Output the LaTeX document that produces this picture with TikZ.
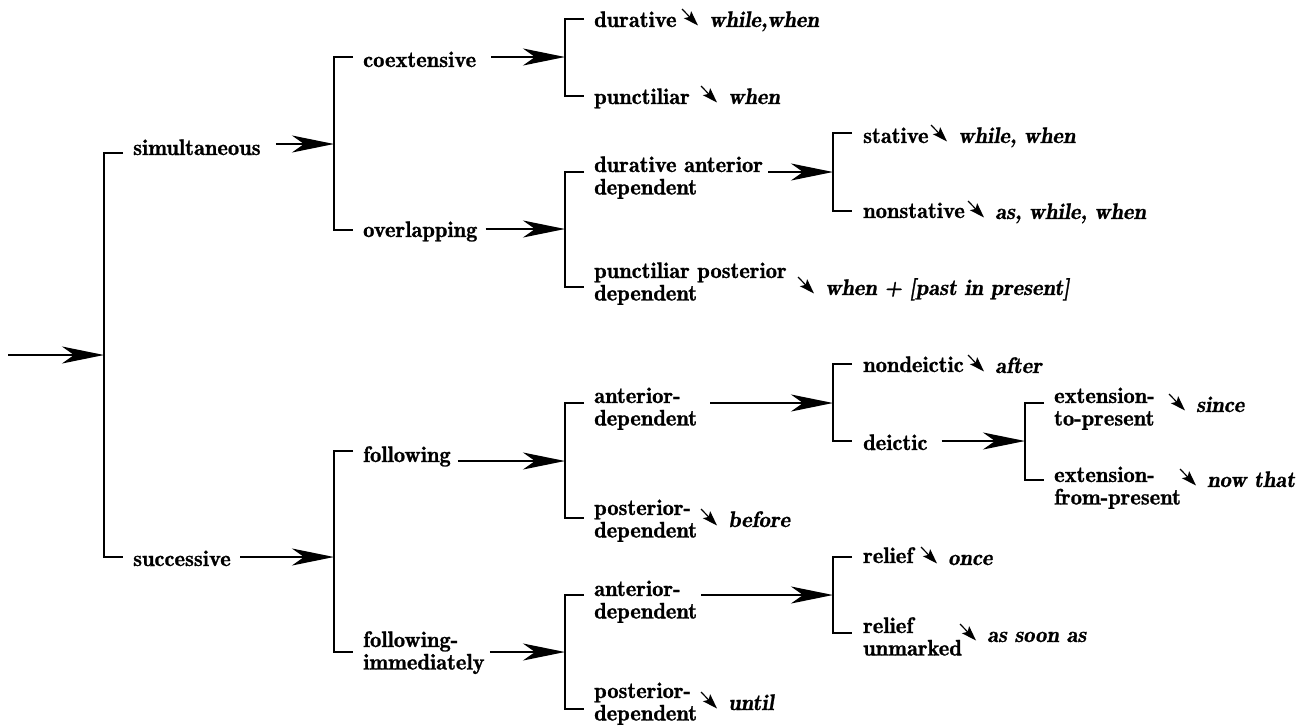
\documentclass[tikz,border=0pt]{standalone}
\usepackage{fontspec}
\newfontfamily\lblfont{lmromandemi10-regular.otf}[FakeBold=1]
\newfontfamily\conjfont{lmromandemi10-oblique.otf}[FakeBold=1]
\usetikzlibrary{arrows.meta}

% text size used for every label
\newcommand\sz{\fontsize{22.5}{22.5}\selectfont}
% two-line label whose baseline is the first line
\newcommand\twoline[2]{\begin{tabular}[t]{@{}l@{}}#1\\#2\end{tabular}}
% bracket: junction name, x, top, bottom, y of incoming arrow
\newcommand\brk[5]{%
  \draw[brkline] (#2+19,#3) -- (#2,#3) -- (#2,#4) -- (#2+19,#4);
  \coordinate (#1) at (#2,#5);}

\begin{document}
\begin{tikzpicture}[x=1pt,y=-1pt,
  lbl/.style={anchor=base west,inner sep=0pt,font=\lblfont\sz},
  conj/.style={anchor=base west,inner sep=0pt,font=\conjfont\sz},
  brkline/.style={line width=2pt},
  big/.style={line width=2pt,-{Stealth[length=42pt,width=17pt,inset=12pt]}},
  ptr/.style={line width=1.2pt,-{Stealth[length=15pt,width=10pt,inset=3pt]}}]
\useasboundingbox (0,0) rectangle (1305,726);

% ---- brackets ----
\brk{K1}{104}{153}{557}{355}
\brk{K2}{334}{57}{230}{144}
\brk{K3}{565}{19}{96}{57}
\brk{K4}{565}{172}{287}{229}
\brk{K5}{833}{133}{211}{172}
\brk{K6}{334}{451}{652}{557}
\brk{K7}{565}{403}{518}{461}
\brk{K8}{833}{364}{441}{403}
\brk{K9}{565}{595}{709}{652}
\brk{K10}{833}{557}{633}{595}
\brk{K11}{1025}{403}{480}{441}

% ---- category labels ----
\node[lbl] (sim) at (133,155) {simultaneous};
\node[lbl] (suc) at (133,566) {successive};
\node[lbl] (coe) at (363,67) {coextensive};
\node[lbl] (ovl) at (363,237) {overlapping};
\node[lbl] (fol) at (363,462) {following};
\node[lbl] (fim) at (363,647) {\twoline{following-}{immediately}};
\node[lbl] (dur) at (594,27) {durative};
\node[lbl] (pun) at (594,104) {punctiliar};
\node[lbl] (dad) at (594,172) {\twoline{durative anterior}{dependent}};
\node[lbl] (ppd) at (594,278) {\twoline{punctiliar posterior}{dependent}};
\node[lbl] (sta) at (863,143) {stative};
\node[lbl] (nst) at (863,218) {nonstative};
\node[lbl] (ad1) at (594,403) {\twoline{anterior-}{dependent}};
\node[lbl] (pd1) at (594,515) {\twoline{posterior-}{dependent}};
\node[lbl] (ad2) at (594,596) {\twoline{anterior-}{dependent}};
\node[lbl] (pd2) at (594,698) {\twoline{posterior-}{dependent}};
\node[lbl] (ndx) at (863,372) {nondeictic};
\node[lbl] (dx) at (863,450) {deictic};
\node[lbl] (etp) at (1054,403) {\twoline{extension-}{to-present}};
\node[lbl] (efp) at (1054,482) {\twoline{extension-}{from-present}};
\node[lbl] (rel) at (863,563) {relief};
\node[lbl] (rum) at (863,633) {\twoline{relief}{unmarked}};

% ---- conjunctions ----
\node[conj] (w1) at (709,27) {while,when};
\node[conj] (w2) at (728,104) {when};
\node[conj] (w3) at (825,295) {when + [past in present]};
\node[conj] (w4) at (958,143) {while, when};
\node[conj] (w5) at (995,219) {as, while, when};
\node[conj] (w6) at (728,527) {before};
\node[conj] (w7) at (728,710) {until};
\node[conj] (w8) at (995,373) {after};
\node[conj] (w9) at (1196,412) {since};
\node[conj] (w10) at (1207,487) {now that};
\node[conj] (w11) at (948,565) {once};
\node[conj] (w12) at (987,642) {as soon as};

% ---- main arrows into the brackets ----
\coordinate (root) at (8,355);
\draw[big] (root) -- (K1);
\draw[big] ([xshift=15pt]sim.east |- K2) -- (K2);
\draw[big] ([xshift=15pt]coe.east |- K3) -- (K3);
\draw[big] ([xshift=8pt]ovl.east |- K4) -- (K4);
\draw[big] ([xshift=5pt]dad.east |- K5) -- (K5);
\draw[big] ([xshift=9pt]suc.east |- K6) -- (K6);
\draw[big] ([xshift=7pt]fol.east |- K7) -- (K7);
\draw[big] ([xshift=5pt]fim.east |- K9) -- (K9);
\draw[big] ([xshift=13pt]ad1.east |- K8) -- (K8);
\draw[big] ([xshift=4pt]ad2.east |- K10) -- (K10);
\draw[big] ([xshift=14pt]dx.east |- K11) -- (K11);

% ---- small pointers before the conjunctions ----
\foreach \w in {w1,w2,w3,w4,w5,w6,w7,w8,w9,w10,w11,w12}
  \draw[ptr] ([shift={(-27,-18)}]\w.base west) -- ([shift={(-11,-1.5)}]\w.base west);
\end{tikzpicture}
\end{document}
